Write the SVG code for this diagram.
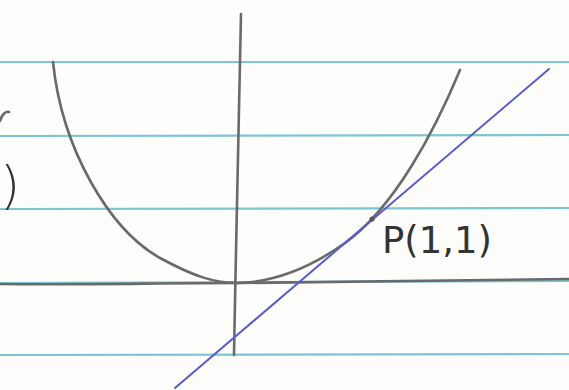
<svg xmlns="http://www.w3.org/2000/svg" width="569" height="390" viewBox="0 0 569 390">
<style>
.rule{stroke:#7cc6d2;stroke-width:2.2;fill:none}
.pen{stroke:#6a6a6a;stroke-width:2.6;fill:none;stroke-linecap:round;stroke-linejoin:round}
.tan{stroke:#5a5ccc;stroke-width:2;fill:none;stroke-linecap:round}
.hand{font-family:"DejaVu Sans","Liberation Sans",sans-serif;fill:#333}
</style>
<rect width="569" height="390" fill="#fdfdfb"/>
<g id="paper">
<line class="rule" x1="0" y1="62" x2="569" y2="62"/>
<line class="rule" x1="0" y1="136" x2="569" y2="135"/>
<line class="rule" x1="0" y1="209" x2="569" y2="208"/>
<line class="rule" x1="0" y1="283" x2="569" y2="281"/>
<line class="rule" x1="0" y1="355" x2="569" y2="354"/>
</g>
<g id="connectors">
<path id="x-axis" class="pen" d="M0,284 C80,285 160,283 240,283 C340,282 450,281 569,279"/>
<path id="y-axis" class="pen" d="M241,14 C239,120 236,240 234,355"/>
<path id="parabola" class="pen" d="M53,62 C62,150 110,230 160,258 C195,277 215,283 238,283 C275,282 310,268 345,243 C395,207 435,130 460,70"/>
<line id="tangent" class="tan" x1="175" y1="388" x2="549" y2="69"/>
<path id="margin-mark" class="pen" d="M0,121 C2,114 6,111 9,112"/>
</g>
<g id="point-P">
<circle cx="372" cy="219" r="2.5" fill="#555"/>
<text class="hand" x="382" y="253" font-size="37">P(1,1)</text>
</g>
<g id="margin-fragment">
<text class="hand" x="0" y="203" font-size="52" font-weight="300" fill="#666">)</text>
</g>
</svg>
